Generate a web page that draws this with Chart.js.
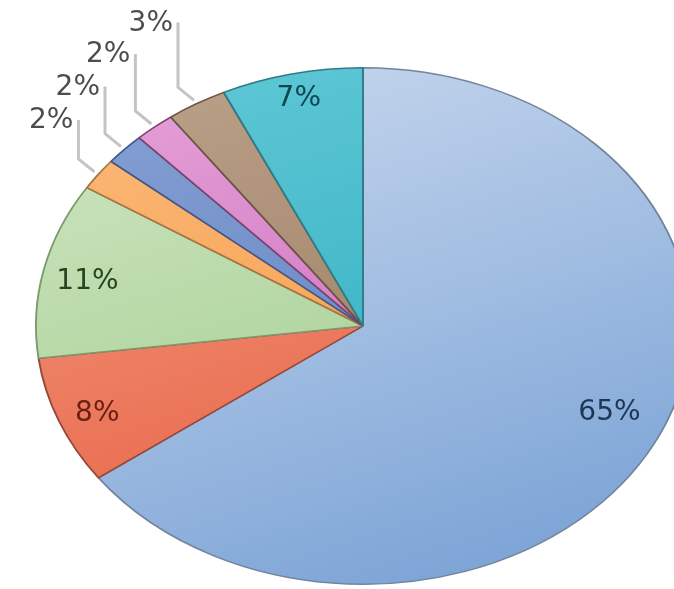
<!DOCTYPE html>
<html>
<head>
<meta charset="utf-8">
<script src="https://cdn.jsdelivr.net/npm/chart.js@4/dist/chart.umd.min.js"></script>
<style>
  html, body { margin: 0; padding: 0; background: #fff; }
  #wrap { width: 674px; height: 589px; overflow: hidden; }
</style>
</head>
<body>
<div id="wrap"><canvas id="pie" width="674" height="589"></canvas></div>
<script>
// === data ===
const categories = ["A", "B", "C", "D", "E", "F", "G", "H"];
const values = [65, 8, 11, 2, 2, 2, 3, 7];

// === styles ===
const lightColors = ["#c6d6ed", "#f29a80", "#cfe5c0", "#fbb878", "#859fd2", "#e4a0d7", "#baa088", "#5ec7d5"];
const darkColors  = ["#7ca4d6", "#e65a3c", "#98c886", "#f5963e", "#5a7cbe", "#c75fb4", "#937458", "#27a9bd"];
const edgeColors  = ["#72859c", "#94483a", "#7c9a6e", "#a8743f", "#41568a", "#7c436f", "#6a5545", "#2f7c88"];
const textColors  = ["#1e3656", "#6a1f12", "#27451f", "#4d4d4d", "#4d4d4d", "#4d4d4d", "#4d4d4d", "#0e4852"];
const outside     = [false, false, false, true, true, true, true, false];
const labelRadius = [0.825, 0.88, 0.86, 1.015, 1.015, 1.015, 1.015, 0.9];
const labelNudge  = [-3, -1, -1, 0, 0, 0, 0, 0]; // degrees
const leaderLift  = [0, 0, 0, 52, 60, 70, 78, 0];
const stretchX = 328 / 259;

function sliceGradient(context) {
  const chart = context.chart;
  const i = context.dataIndex;
  const area = chart.chartArea;
  if (!area) return darkColors[i];
  const cx = (area.left + area.right) / 2;
  const cy = (area.top + area.bottom) / 2;
  const r = Math.min(area.right - area.left, area.bottom - area.top) / 2;
  const g = chart.ctx.createLinearGradient(cx - r * 0.5, cy - r, cx + r * 0.3, cy + r);
  g.addColorStop(0, lightColors[i]);
  g.addColorStop(1, darkColors[i]);
  return g;
}

// stretch the pie into an ellipse, then put the labels on top
const ellipsePlugin = {
  id: "ellipse",
  beforeDatasetsDraw(chart) {
    const arc = chart.getDatasetMeta(0).data[0];
    const ctx = chart.ctx;
    ctx.save();
    ctx.translate(arc.x, arc.y);
    ctx.scale(stretchX, 1);
    ctx.translate(-arc.x, -arc.y);
  },
  afterDatasetsDraw(chart) {
    const ctx = chart.ctx;
    ctx.restore();
    const total = values.reduce((a, b) => a + b, 0);
    const arcs = chart.getDatasetMeta(0).data;

    ctx.save();
    ctx.font = "28px 'DejaVu Sans'";
    arcs.forEach((arc, i) => {
      const text = Math.round(values[i] / total * 100) + "%";
      const mid = (arc.startAngle + arc.endAngle) / 2 + labelNudge[i] * Math.PI / 180;
      const k = labelRadius[i];
      const px = arc.x + Math.cos(mid) * arc.outerRadius * k * stretchX;
      const py = arc.y + Math.sin(mid) * arc.outerRadius * k;
      ctx.fillStyle = textColors[i];
      ctx.textBaseline = "middle";
      if (!outside[i]) {
        ctx.textAlign = "center";
        ctx.fillText(text, px, py);
        return;
      }
      // leader line: up from the slice edge, then straight up to the label
      const bx = px - 16, by = py - 13;
      const ty = py - leaderLift[i];
      ctx.strokeStyle = "#c4c4c4";
      ctx.lineWidth = 3;
      ctx.beginPath();
      ctx.moveTo(bx, ty);
      ctx.lineTo(bx, by);
      ctx.lineTo(px, py);
      ctx.stroke();
      ctx.textAlign = "right";
      ctx.fillText(text, bx - 5, ty + 1);
    });
    ctx.restore();
  }
};

const chart = new Chart(document.getElementById("pie").getContext("2d"), {
  type: "pie",
  data: {
    labels: categories,
    datasets: [{
      data: values,
      backgroundColor: sliceGradient,
      borderColor: edgeColors,
      borderWidth: 1.5,
      clip: false
    }]
  },
  options: {
    responsive: false,
    animation: false,
    layout: { padding: { top: 67, bottom: 4, left: 100, right: 48 } },
    plugins: {
      legend: { display: false },
      tooltip: { enabled: false }
    }
  },
  plugins: [ellipsePlugin]
});
</script>
</body>
</html>
